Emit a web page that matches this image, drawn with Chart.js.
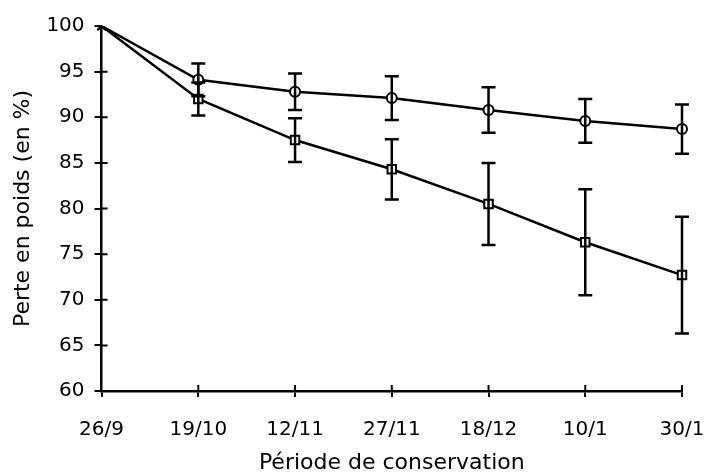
<!DOCTYPE html>
<html>
<head>
<meta charset="utf-8">
<script src="https://cdn.jsdelivr.net/npm/chart.js@4.4.1/dist/chart.umd.min.js"></script>
<style>
  html, body { margin: 0; padding: 0; background: #fff; }
  #wrap { width: 704px; height: 474px; }
</style>
</head>
<body>
<div id="wrap"><canvas id="perte"></canvas></div>
<script>
// dates de mesure
var dates = ["26/9", "19/10", "12/11", "27/11", "18/12", "10/1", "30/1"];

// serie ronds (pertes faibles)
var ronds = [100, 94.1, 92.8, 92.1, 90.8, 89.6, 88.7];
var rondsErr = [0, 1.8, 2.0, 2.4, 2.5, 2.4, 2.7];

// serie carres
var carres = [100, 92.0, 87.5, 84.3, 80.5, 76.3, 72.7];
var carresErr = [0, 1.8, 2.4, 3.3, 4.5, 5.8, 6.4];

var yTicks = [60, 65, 70, 75, 80, 85, 90, 95, 100];

var police = "'DejaVu Sans', Verdana, sans-serif";

// barres d'erreur + petites graduations vers l'interieur
var errorBars = {
    id: 'errorBars',
    afterDatasetsDraw: function(chart) {
        var ctx = chart.ctx;
        var x = chart.scales.x, y = chart.scales.y;
        var errs = [rondsErr, carresErr];
        ctx.save();
        ctx.strokeStyle = '#000';
        ctx.lineWidth = 2.5;
        for (var d = 0; d < chart.data.datasets.length; d++) {
            var vals = chart.data.datasets[d].data;
            for (var i = 0; i < vals.length; i++) {
                if (!errs[d][i]) continue;
                var px = x.getPixelForValue(i);
                var top = y.getPixelForValue(vals[i] + errs[d][i]);
                var bot = y.getPixelForValue(vals[i] - errs[d][i]);
                ctx.beginPath();
                ctx.moveTo(px, top); ctx.lineTo(px, bot);
                ctx.moveTo(px - 7, top); ctx.lineTo(px + 7, top);
                ctx.moveTo(px - 7, bot); ctx.lineTo(px + 7, bot);
                ctx.stroke();
            }
        }
        // graduations interieures
        ctx.lineWidth = 2;
        ctx.beginPath();
        for (var t = 0; t < yTicks.length - 1; t++) {
            var py = y.getPixelForValue(yTicks[t]);
            ctx.moveTo(x.left, py); ctx.lineTo(x.left + 6, py);
        }
        for (var j = 1; j < dates.length; j++) {
            var qx = x.getPixelForValue(j);
            ctx.moveTo(qx, y.bottom); ctx.lineTo(qx, y.bottom - 6);
        }
        ctx.stroke();
        ctx.restore();
    }
};

var styles = dates.map(function(d, i) { return i === 0 ? 'crossRot' : 'circle'; });
var styles2 = dates.map(function(d, i) { return i === 0 ? 'crossRot' : 'rect'; });

var ctx = document.getElementById('perte').getContext('2d');
var chart = new Chart(ctx, {
    type: 'line',
    data: {
        labels: dates,
        datasets: [{
            label: 'ronds',
            data: ronds,
            borderColor: '#000',
            borderWidth: 2.5,
            pointStyle: styles,
            pointRadius: 5,
            pointBackgroundColor: '#fff',
            pointBorderColor: '#000',
            pointBorderWidth: 2,
            tension: 0
        }, {
            label: 'carres',
            data: carres,
            borderColor: '#000',
            borderWidth: 2.5,
            pointStyle: styles2,
            pointRadius: 6,
            pointBackgroundColor: '#fff',
            pointBorderColor: '#000',
            pointBorderWidth: 2,
            tension: 0
        }]
    },
    options: {
        responsive: true,
        maintainAspectRatio: false,
        animation: false,
        layout: { padding: { top: 26, right: 22, left: 6, bottom: 0 } },
        plugins: {
            legend: { display: false },
            tooltip: { enabled: false }
        },
        scales: {
            x: {
                offset: false,
                afterFit: function(s) {
                    s.paddingLeft = 0;
                    s.paddingRight = 0;
                    s.height -= 11;
                },
                border: { color: '#000', width: 2.5 },
                grid: { display: true, drawOnChartArea: false, color: '#000', lineWidth: 2, tickLength: 6 },
                ticks: { color: '#000', font: { family: police, size: 20 }, padding: 21, maxRotation: 0 },
                title: { display: true, text: 'Période de conservation', color: '#000',
                         font: { family: police, size: 22, lineHeight: 1 }, padding: { top: 0, bottom: 0 } }
            },
            y: {
                min: 60,
                max: 100,
                border: { color: '#000', width: 2.5 },
                grid: { display: true, drawOnChartArea: false, color: '#000', lineWidth: 2, tickLength: 7 },
                afterBuildTicks: function(axis) {
                    axis.ticks = yTicks.map(function(v) { return { value: v }; });
                },
                ticks: { color: '#000', font: { family: police, size: 20 }, padding: 10 },
                title: { display: true, text: 'Perte en poids (en %)', color: '#000',
                         font: { family: police, size: 22 }, padding: { top: 4, bottom: 0 } }
            }
        }
    },
    plugins: [errorBars]
});
</script>
</body>
</html>
